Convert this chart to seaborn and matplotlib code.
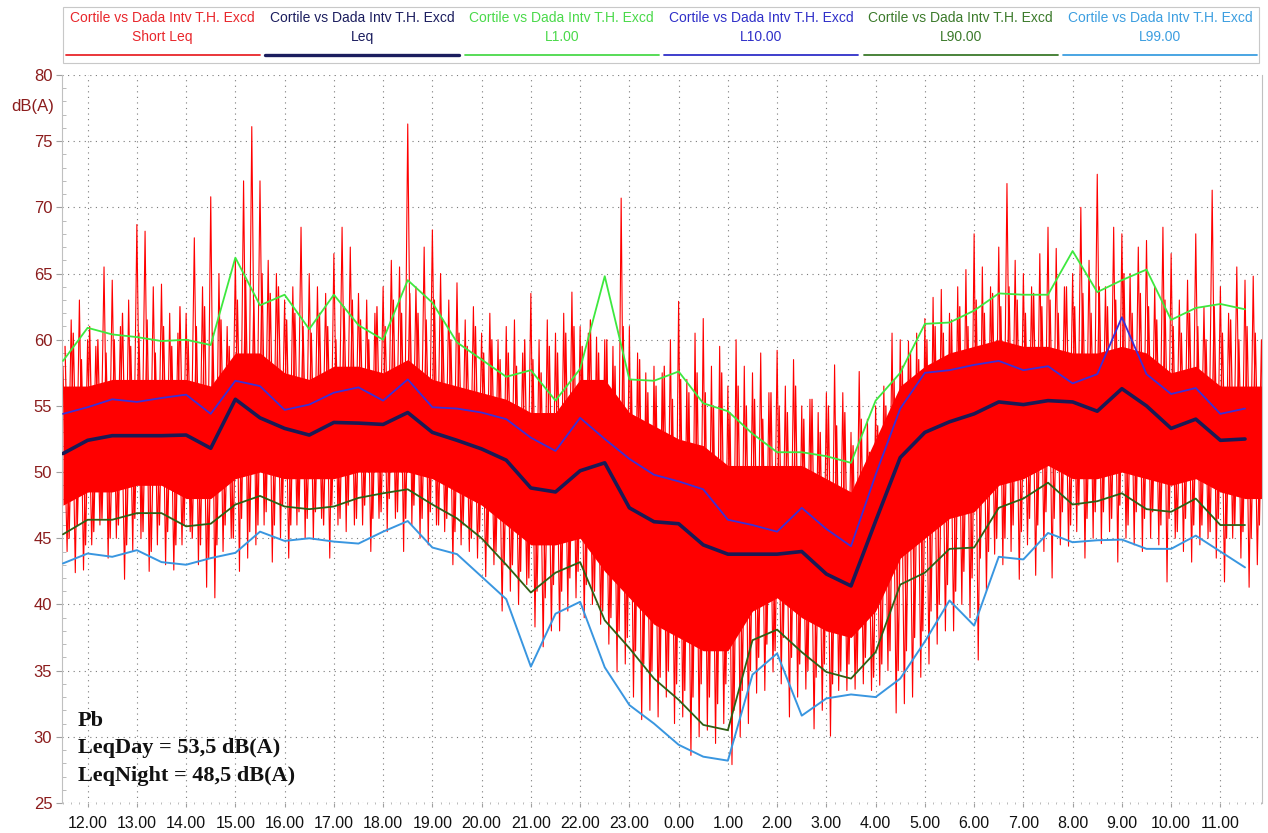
import numpy as np
import matplotlib
matplotlib.use("Agg")
import matplotlib.pyplot as plt
from matplotlib.patches import Rectangle
from matplotlib.lines import Line2D
from matplotlib.ticker import MultipleLocator
import seaborn as sns

# interval levels, one value every half hour from 11.30 to 11.30 next day
l1 = [58.4, 60.9, 60.4, 60.2, 59.9, 60.0, 59.6, 66.2, 62.6, 63.4,
      60.8, 63.4, 61.1, 60.0, 64.5, 62.8, 59.8, 58.5, 57.2, 57.7,
      55.4, 57.8, 64.8, 57.0, 56.9, 57.6, 55.2, 54.6, 52.9, 51.5,
      51.5, 51.2, 50.7, 55.4, 57.5, 61.2, 61.3, 62.2, 63.5, 63.4,
      63.4, 66.7, 63.6, 64.5, 65.3, 61.5, 62.4, 62.7, 62.3]
l10 = [54.4, 54.9, 55.5, 55.3, 55.6, 55.85, 54.4, 56.9, 56.5, 54.7,
       55.1, 56.0, 56.4, 55.4, 57.0, 54.9, 54.8, 54.5, 54.0, 52.6,
       51.6, 54.1, 52.5, 51.0, 49.8, 49.3, 48.7, 46.4, 46.0, 45.5,
       47.3, 45.7, 44.4, 49.8, 54.8, 57.5, 57.7, 58.1, 58.4, 57.7,
       58.0, 56.7, 57.4, 61.7, 57.4, 55.9, 56.35, 54.4, 54.8]
leq = [51.4, 52.4, 52.75, 52.75, 52.75, 52.8, 51.8, 55.5, 54.1, 53.3,
       52.8, 53.75, 53.7, 53.6, 54.5, 53.0, 52.4, 51.75, 50.9, 48.8,
       48.5, 50.1, 50.7, 47.3, 46.25, 46.1, 44.5, 43.8, 43.8, 43.8,
       44.0, 42.3, 41.4, 46.3, 51.1, 53.0, 53.8, 54.4, 55.3, 55.1,
       55.4, 55.3, 54.6, 56.3, 55.0, 53.3, 54.0, 52.4, 52.5]
l90 = [45.3, 46.4, 46.4, 46.9, 46.9, 45.9, 46.1, 47.55, 48.2, 47.4,
       47.2, 47.4, 48.05, 48.4, 48.7, 47.55, 46.5, 45.0, 43.0, 40.9,
       42.4, 43.2, 38.8, 36.7, 34.4, 32.8, 30.9, 30.5, 37.3, 38.1,
       36.4, 34.9, 34.4, 36.4, 41.5, 42.4, 44.2, 44.3, 47.3, 48.0,
       49.2, 47.55, 47.8, 48.4, 47.2, 47.0, 48.0, 46.0, 46.0]
l99 = [43.1, 43.85, 43.6, 44.1, 43.2, 43.0, 43.5, 43.9, 45.5, 44.8,
       45.0, 44.75, 44.6, 45.5, 46.3, 44.3, 43.8, 42.1, 40.4, 35.3,
       39.3, 40.2, 35.25, 32.4, 31.0, 29.4, 28.5, 28.2, 34.7, 36.3,
       31.6, 32.9, 33.2, 33.0, 34.4, 37.2, 40.3, 38.4, 43.6, 43.4,
       45.4, 44.7, 44.85, 44.9, 44.2, 44.2, 45.2, 44.0, 42.8]

# short Leq trace: solid core per half hour (last point lies past the axis end)
core_hi = [56.5, 56.5, 57, 57, 57, 57, 56.5, 59, 59, 57.5,
           57, 58, 58, 57.5, 58.5, 57, 56.5, 56, 55.5, 54.5,
           54.5, 57, 57, 54.5, 53.5, 52.5, 52, 50.5, 50.5, 50.5,
           50.5, 49.5, 48.5, 52.5, 56.5, 58, 59, 59.5, 60, 59.5,
           59.5, 59, 59, 59.5, 59, 57.5, 58, 56.5, 56.5, 56.5]
core_lo = [47.5, 48.5, 48.5, 49, 49, 48, 48, 49.5, 50, 49.5,
           49.5, 49.5, 50, 50, 50, 49.5, 48.5, 47.5, 46, 44.5,
           44.5, 45, 42.5, 40.5, 38.5, 37.5, 36.5, 36.5, 39.5, 40.5,
           39, 38, 37.5, 39.5, 43.5, 45, 46.5, 47, 49, 49.5,
           50.5, 49.5, 49.5, 50, 49.5, 49, 49.5, 48.5, 48, 48]

# short Leq tall spikes, top and bottom every 10 minutes from 11.30
short_hi = [58, 61.5, 63, 60, 59.5, 65.5,
            64.5, 61, 63, 68.7, 68.2, 64,
            64.2, 62, 60.5, 62, 67.7, 64,
            70.8, 65, 61, 66, 72, 76.1,
            72, 66, 65, 63, 64, 68.5,
            65, 64, 63.5, 66.5, 68.5, 67,
            63.5, 63, 62, 64, 66, 65.5,
            76.3, 64, 67, 68.3, 65, 63,
            64.3, 61.5, 62.5, 60.5, 62, 60,
            61, 61.5, 59, 63.5, 60, 61.5,
            60.5, 62, 63.6, 61, 60.5, 60.2,
            60, 59.5, 70.7, 61, 59, 57.5,
            58, 57.5, 60, 62.9, 57, 60.5,
            61.6, 58, 59.5, 56.5, 60, 58,
            57.5, 59, 56, 59.2, 56.5, 58.5,
            55, 55.5, 54.5, 56, 58.1, 56,
            53, 57.6, 54, 55, 56.5, 60.5,
            60, 59.9, 60.5, 61.6, 63.2, 63.8,
            62, 64, 65.3, 68, 65.5, 64,
            67, 71.8, 66, 65, 64, 66.5,
            68.5, 66.9, 64, 65, 70, 66,
            72.5, 64, 68.5, 68, 65, 67,
            67.5, 64, 68.5, 66.5, 63, 64.5,
            68, 62.5, 71.3, 64, 62, 65.5,
            64.5, 64.8, 60]
short_lo = [44, 42.4, 42.6, 44.5, 46, 43.5,
            45, 41.9, 44, 45, 42.5, 44.5,
            43, 42.6, 44.5, 45.5, 43, 41.3,
            40.5, 44, 45, 42.5, 43.5, 44.5,
            46, 43.2, 45, 43.5, 46, 45,
            44.9, 46.5, 43.5, 46, 45.5, 46,
            46, 44, 46.5, 45.5, 46.5, 44,
            46, 45, 44.5, 46, 45.5, 43,
            44.5, 44, 43.5, 42.1, 43, 39.5,
            41, 40, 41.5, 38.3, 36.8, 38,
            38, 39.5, 40.5, 39, 40, 38.5,
            37, 34.9, 35.5, 33, 31.3, 32,
            31.5, 33, 31, 31.5, 28.6, 30,
            30.5, 29.5, 31, 27.9, 30, 31,
            33.3, 33.5, 34.9, 34, 31.5, 33,
            33.6, 30.6, 32, 30.05, 33.5, 33.5,
            33.6, 34, 33.5, 33.9, 35, 31.8,
            32.5, 33, 34.5, 35.5, 37, 38,
            38, 40, 39, 35.8, 41, 43.8,
            43, 44, 41.9, 44.5, 42.2, 44,
            42, 44.5, 44.4, 45.5, 43.5, 45,
            44.6, 45.5, 43.2, 45, 44.5, 44,
            45, 44.5, 41.7, 45, 44, 43.2,
            44.5, 45, 43.5, 41.7, 45, 43.5,
            41.3, 43, 42]

# short Leq medium spikes, every 10 minutes, in between the tall ones
mid_hi = [59.5, 60.5, 58.5, 61, 60, 59,
          60, 62, 59.5, 60.5, 61.5, 59,
          61, 59.5, 62.5, 60, 61, 62.5,
          60.5, 61.5, 59.5, 63, 64.5, 63,
          65, 63.5, 64, 61.5, 62, 61,
          60.5, 62, 61, 60, 62.5, 63,
          61.5, 60, 62.5, 61, 63, 62,
          63.5, 62, 61.5, 63, 61.5, 60,
          60.5, 59.5, 61, 59, 60, 58.5,
          59, 58, 60, 58.5, 57.5, 59.5,
          59, 60.5, 61, 59.5, 61.5, 59,
          60, 58, 61, 57, 58.5, 56,
          56.5, 58, 55.5, 57, 56, 57.5,
          56, 55, 57.5, 54.5, 56.5, 55,
          55.5, 54, 56, 55, 54.5, 56.5,
          54, 55.5, 53, 55, 53.5, 54.5,
          52, 54, 51.5, 53.5, 55, 57,
          58, 59, 58.5, 60, 61, 60.5,
          61.5, 62.5, 61, 63, 62, 63.5,
          62.5, 64, 63, 62, 63.5, 62.5,
          63, 62, 64, 62.5, 63.5, 62,
          64, 62.5, 63, 65, 62, 63.5,
          62.5, 61.5, 63, 61, 60.5, 62,
          61, 60, 62.5, 60.5, 61.5, 60,
          61, 60.5, 62]
mid_lo = [45, 46, 44.5, 45.5, 46.5, 45,
          46, 44.5, 46.5, 45.5, 44, 46,
          45.5, 44.5, 46, 45, 44.5, 43.5,
          44.5, 46, 45, 46.5, 45.5, 46,
          47, 46, 47.5, 46, 47, 46.5,
          47, 46, 47.5, 46.5, 47.5, 46.5,
          47.5, 46.5, 47, 48, 47, 46.5,
          47.5, 46.5, 47, 46, 46.5, 45.5,
          46, 45, 45.5, 44.5, 44, 43,
          43, 42.5, 42, 41, 40.5, 41.5,
          41, 42, 42.5, 41.5, 41, 39.5,
          39, 38, 37.5, 36.5, 35.5, 35,
          34.5, 35, 34, 33.5, 33, 34,
          33, 32.5, 34, 32, 33.5, 35,
          36, 37, 36.5, 37.5, 36, 35.5,
          35, 34.5, 35.5, 34, 35, 35.5,
          35, 36, 34.5, 35.5, 36.5, 35,
          36.5, 37.5, 38, 39.5, 40, 41.5,
          41, 42.5, 42, 43.5, 44, 45,
          45, 46, 45.5, 46.5, 46, 47,
          46.5, 47, 46, 47.5, 46.5, 47,
          47, 46.5, 47.5, 46, 47, 46.5,
          47, 46, 46.5, 45.5, 46.5, 46,
          46, 45.5, 46.5, 45, 46, 45.5,
          45, 46, 45.5]

hour_labels = ["12.00", "13.00", "14.00", "15.00", "16.00", "17.00", "18.00",
               "19.00", "20.00", "21.00", "22.00", "23.00", "0.00", "1.00",
               "2.00", "3.00", "4.00", "5.00", "6.00", "7.00", "8.00", "9.00",
               "10.00", "11.00"]
legend_names = ["Short Leq", "Leq", "L1.00", "L10.00", "L90.00", "L99.00"]
legend_colors = ["#e8262b", "#1b1d5e", "#4ad94a", "#2f2fc8", "#3b7a2b", "#3c9ee0"]

W, H = 1268, 833

sns.set_style("white")
plt.rcParams["font.family"] = ["Liberation Sans", "DejaVu Sans"]

fig = plt.figure(figsize=(W / 100, H / 100), dpi=100)
ax = fig.add_axes([62 / W, 1 - 803 / H, 1200 / W, 728 / H])

t_half = 11.5 + 0.5 * np.arange(len(l1))
t_core = 11.5 + 0.5 * np.arange(len(core_hi))
t_10 = 11.5 + np.arange(len(short_hi)) / 6

# short Leq: solid core plus two layers of spikes
ax.fill_between(t_core, core_lo, core_hi, color="#ff0000", lw=0, zorder=2)
for hi, lo, shift, lw in [(mid_hi, mid_lo, 1 / 24, 0.9),
                          (short_hi, short_lo, 0.0, 0.8)]:
    zx = np.column_stack([t_10 + shift, t_10 + shift + 1 / 12]).ravel()
    zy = np.column_stack([hi, lo]).ravel()
    sns.lineplot(x=zx, y=zy, ax=ax, color="#ff0000", lw=lw, estimator=None,
                 sort=False, zorder=2, legend=False)

series = [(l99, "#3996e0", 1.4), (l90, "#2f5f14", 1.3), (l1, "#3ee83e", 1.3),
          (l10, "#3a30d8", 1.3), (leq, "#1a1a55", 2.6)]
for vals, col, lw in series:
    sns.lineplot(x=t_half, y=vals, ax=ax, color=col, lw=lw, zorder=3,
                 legend=False)

ax.set_xlim(11.48, 35.845)
ax.set_ylim(25, 80)
ax.set_xticks(range(12, 36))
ax.set_xticklabels(hour_labels)
ax.set_yticks(range(25, 81, 5))
ax.xaxis.set_minor_locator(MultipleLocator(1 / 6))
ax.yaxis.set_minor_locator(MultipleLocator(1))
ax.set_xlabel("")
ax.set_ylabel("")
ax.grid(True, which="major", color="#7a7a7a", linestyle=(0, (1, 4)), lw=0.8)
ax.set_axisbelow(True)
for s in ["top", "bottom"]:
    ax.spines[s].set_visible(False)
for s in ["left", "right"]:
    ax.spines[s].set_color("#c0c0c0")
    ax.spines[s].set_linewidth(0.8)
ax.tick_params(axis="y", which="major", labelsize=12, labelcolor="#8b1c1c",
               color="#a0a0a0", length=4, pad=3, left=True)
ax.tick_params(axis="y", which="minor", color="#b0b0b0", length=3, left=True,
               direction="in")
ax.tick_params(axis="x", which="major", labelsize=11.5, labelcolor="#111111",
               color="#a0a0a0", length=3, pad=6, bottom=True)
ax.tick_params(axis="x", which="minor", color="#b0b0b0", length=2,
               bottom=True, direction="inout")

fig.text(33 / W, 1 - 107 / H, "dB(A)", ha="center", va="center",
         color="#8b1c1c", fontsize=12)

# legend block above the plot
def fx(px):
    return px / W

def fy(py):
    return 1 - py / H

fig.patches.append(Rectangle((fx(63), fy(63)), fx(1259) - fx(63), fy(7) - fy(63),
                             transform=fig.transFigure, fill=False,
                             edgecolor="#c8c8c8", lw=0.8))
for i, (name, col) in enumerate(zip(legend_names, legend_colors)):
    cx = 63 + 199.5 * (i + 0.5)
    fig.text(fx(cx), fy(18), "Cortile vs Dada Intv T.H. Excd", color=col,
             ha="center", va="center", fontsize=10)
    fig.text(fx(cx), fy(37), name, color=col, ha="center", va="center",
             fontsize=10)
    fig.add_artist(Line2D([fx(cx - 97), fx(cx + 97)], [fy(55), fy(55)],
                          transform=fig.transFigure, color=col,
                          lw=2.4 if name == "Leq" else 1.3))

for txt, yb in [("Pb", 726), ("LeqDay = 53,5 dB(A)", 753),
                ("LeqNight = 48,5 dB(A)", 781)]:
    fig.text(fx(78), fy(yb), txt, ha="left", va="baseline", fontsize=16,
             fontweight="bold", family=["Liberation Serif", "DejaVu Serif"],
             color="#111111")

fig.savefig("out.png", dpi=100)
